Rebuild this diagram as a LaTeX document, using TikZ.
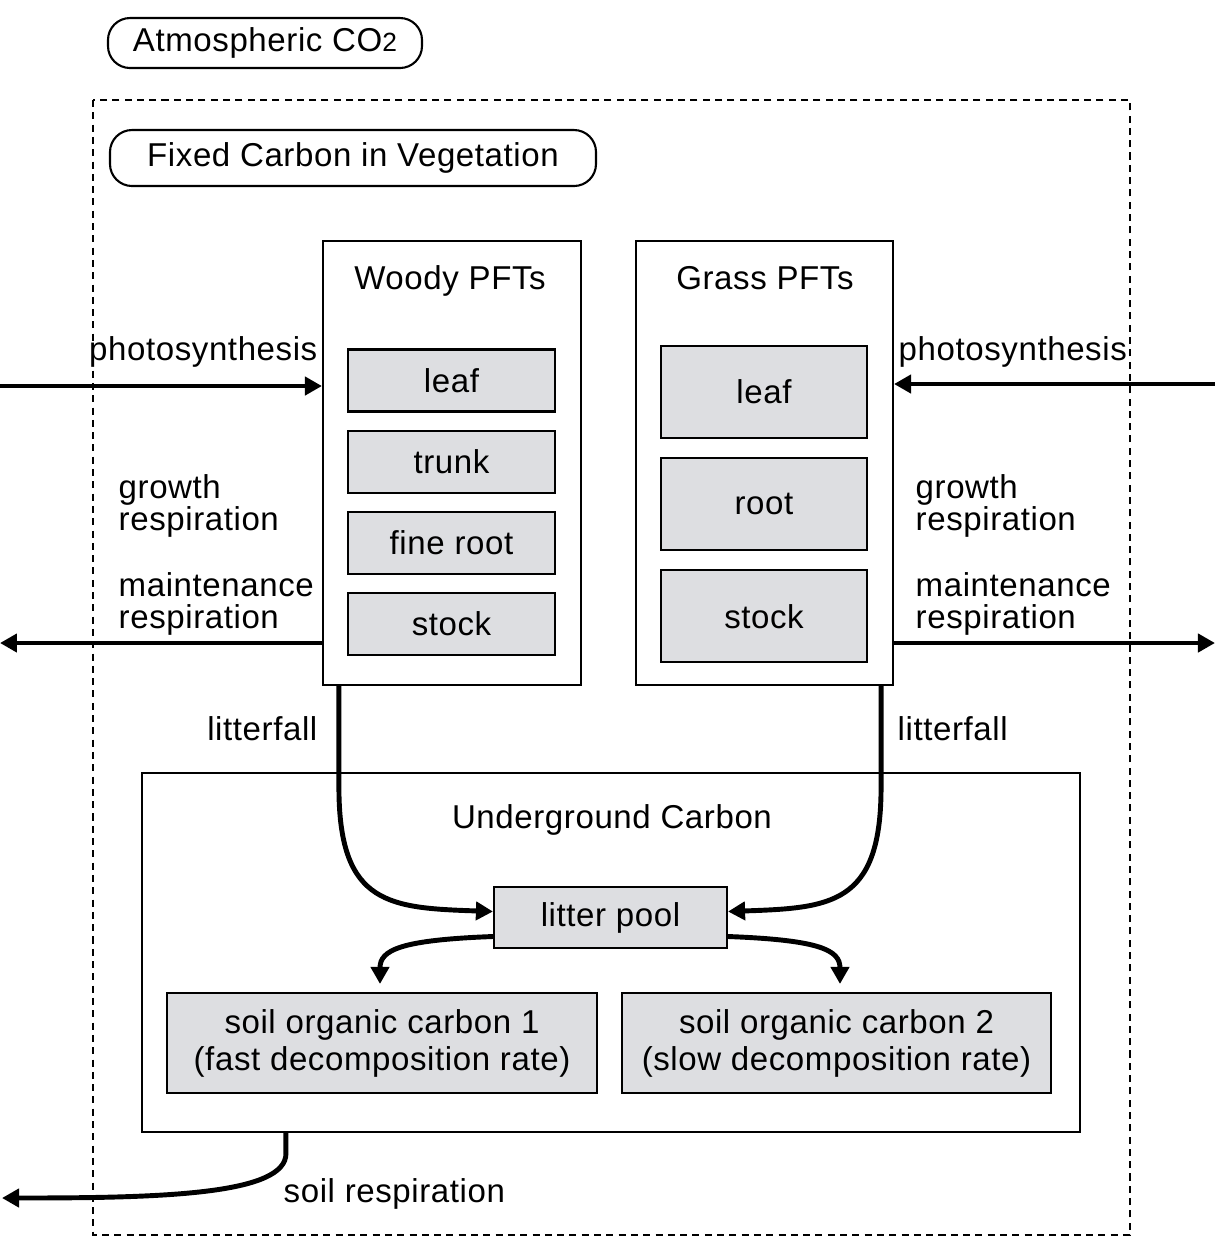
\documentclass[tikz,border=0pt]{standalone}
\usepackage{fontspec}
\setmainfont[LetterSpace=1.8]{Liberation Sans}
\usetikzlibrary{positioning,arrows.meta}
\definecolor{poolgray}{RGB}{221,222,225}

\begin{document}
\begin{tikzpicture}[
    font=\fontsize{9.4}{10.5}\selectfont,
    box/.style={draw, line width=0.6pt, inner sep=0pt},
    pool/.style={box, fill=poolgray, minimum width=2.07cm, minimum height=0.62cm},
    gpool/.style={box, fill=poolgray, minimum width=2.06cm, minimum height=0.92cm},
    pill/.style={draw, line width=0.6pt, rounded corners=0.22cm, inner sep=0pt},
    flux/.style={line width=1.4pt, -{Triangle[length=0.17cm, width=0.18cm]}},
    lab/.style={align=left, font=\fontsize{9.4}{9.1}\selectfont},
    frame/.style={line width=0.6pt, dash pattern=on 2pt off 1.5pt}
]
    \useasboundingbox (0,0) rectangle (12.15,-12.37);

    \node[pill, minimum width=3.14cm, minimum height=0.50cm] (atm) at (2.65,-0.43) {Atmospheric CO{\fontsize{7.5}{9}\selectfont 2}};
    \draw[frame] (0.93,-1.00) rectangle (11.30,-12.35);
    \node[pill, minimum width=4.86cm, minimum height=0.56cm] (veg) at (3.53,-1.58) {Fixed Carbon in Vegetation};

    % woody
    \node[box, minimum width=2.58cm, minimum height=4.44cm] (woody) at (4.52,-4.63) {};
    \node[anchor=base] (wtitle) at (4.50,-2.89) {Woody PFTs};
    \node[pool] (wleaf) at (4.515,-3.805) {leaf};
    \node[pool, below=0.17cm of wleaf] (wtrunk) {trunk};
    \node[pool, below=0.17cm of wtrunk] (wroot) {fine root};
    \node[pool, below=0.17cm of wroot] (wstock) {stock};

    % grass
    \node[box, minimum width=2.57cm, minimum height=4.44cm] (grass) at (7.645,-4.63) {};
    \node[anchor=base] (gtitle) at (7.65,-2.89) {Grass PFTs};
    \node[gpool] (gleaf) at (7.64,-3.92) {leaf};
    \node[gpool, below=0.18cm of gleaf] (groot) {root};
    \node[gpool, below=0.18cm of groot] (gstock) {stock};

    % underground
    \node[box, minimum width=9.38cm, minimum height=3.59cm] (under) at (6.11,-9.525) {};
    \node[anchor=base] (utitle) at (6.12,-8.28) {Underground Carbon};
    \node[box, fill=poolgray, minimum width=2.33cm, minimum height=0.61cm] (litter) at (6.105,-9.175) {litter pool};
    \node[box, fill=poolgray, minimum width=4.30cm, minimum height=1.00cm, align=center] (soc1) at (3.82,-10.43) {soil organic carbon 1\\(fast decomposition rate)};
    \node[box, fill=poolgray, minimum width=4.29cm, minimum height=1.00cm, align=center] (soc2) at (8.365,-10.43) {soil organic carbon 2\\(slow decomposition rate)};

    % end points outside
    \coordinate (pinL) at (0,-3.86);
    \coordinate (pinR) at (12.15,-3.84);
    \coordinate (outL) at (0,-6.43);
    \coordinate (outR) at (12.15,-6.43);
    \coordinate (soilout) at (0.02,-11.98);

    \draw[flux] (pinL) -- (pinL -| woody.west);
    \draw[flux] (pinR) -- (pinR -| grass.east);
    \draw[flux] (outL -| woody.west) -- (outL);
    \draw[flux] (outR -| grass.east) -- (outR);

    \node[anchor=base east, inner sep=0pt] (phL) at (3.18,-3.60) {photosynthesis};
    \node[anchor=base west, inner sep=0pt] (phR) at (8.98,-3.60) {photosynthesis};
    \node[lab, anchor=west, inner sep=0pt] (grL) at (1.18,-5.06) {growth\\respiration};
    \node[lab, anchor=west, inner sep=0pt] (mrL) at (1.18,-6.04) {maintenance\\respiration};
    \node[lab, anchor=west, inner sep=0pt] (grR) at (9.15,-5.06) {growth\\respiration};
    \node[lab, anchor=west, inner sep=0pt] (mrR) at (9.15,-6.04) {maintenance\\respiration};

    % litterfall
    \draw[flux] ([xshift=0.17cm]woody.south west) -- ++(0,-1.05)
        .. controls (3.40,-9.05) and (3.90,-9.08) .. ([yshift=0.06cm]litter.west);
    \draw[flux] ([xshift=-0.13cm]grass.south east) -- ++(0,-1.05)
        .. controls (8.80,-9.05) and (8.30,-9.08) .. ([yshift=0.06cm]litter.east);
    \node[anchor=base east, inner sep=0pt] (lfL) at (3.18,-7.40) {litterfall};
    \node[anchor=base west, inner sep=0pt] (lfR) at (8.97,-7.40) {litterfall};

    \draw[flux] ([yshift=-0.19cm]litter.west) .. controls (4.00,-9.40) and (3.80,-9.50) .. ([yshift=0.08cm]soc1.north -| 3.80,0);
    \draw[flux] ([yshift=-0.19cm]litter.east) .. controls (8.20,-9.40) and (8.40,-9.50) .. ([yshift=0.08cm]soc2.north -| 8.40,0);

    % soil respiration
    \draw[flux] ([xshift=1.45cm]under.south west) -- ++(0,-0.2)
        .. controls (2.87,-11.95) and (1.60,-11.98) .. (soilout);
    \node[anchor=base west, inner sep=0pt] (srL) at (2.83,-12.02) {soil respiration};
\end{tikzpicture}
\end{document}
